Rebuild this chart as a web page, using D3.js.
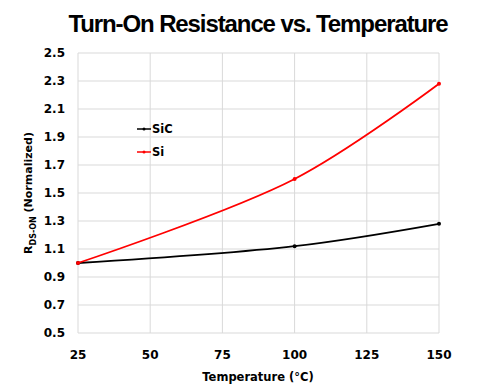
<!DOCTYPE html>
<html>
<head>
<meta charset="utf-8">
<script src="https://cdn.jsdelivr.net/npm/d3@7"></script>
<style>
  body { margin: 0; background: #fff; }
  text { font-family: "DejaVu Sans", Verdana, sans-serif; }
</style>
</head>
<body>
<svg id="chart" width="483" height="385"></svg>
<script>
const temps = [25, 100, 150];
const sicValues = [1.0, 1.12, 1.28];
const siValues = [1.0, 1.6, 2.28];
const xTicks = [25, 50, 75, 100, 125, 150];
const yTicks = [0.5, 0.7, 0.9, 1.1, 1.3, 1.5, 1.7, 1.9, 2.1, 2.3, 2.5];

const series = [
    { name: 'SiC', values: sicValues, color: '#000000' },
    { name: 'Si', values: siValues, color: '#ff0000' }
];

const svg = d3.select("#chart");
const plotLeft = 78, plotRight = 439, plotTop = 53, plotBottom = 333;

const x = d3.scaleLinear().domain([25, 150]).range([plotLeft, plotRight]);
const y = d3.scaleLinear().domain([0.5, 2.5]).range([plotBottom, plotTop]);

// title
svg.append("text")
    .attr("x", 258)
    .attr("y", 32)
    .attr("text-anchor", "middle")
    .style("font-family", "'Liberation Sans', Arial, sans-serif")
    .style("font-size", "24px")
    .style("font-weight", "bold")
    .style("letter-spacing", "-1.1px")
    .text("Turn-On Resistance vs. Temperature");

// grid
svg.append("g")
    .selectAll("line")
    .data(yTicks)
    .enter()
    .append("line")
    .attr("x1", plotLeft)
    .attr("x2", plotRight)
    .attr("y1", d => y(d))
    .attr("y2", d => y(d))
    .style("stroke", "#d9d9d9")
    .style("stroke-width", 1);

svg.append("g")
    .selectAll("line")
    .data(xTicks)
    .enter()
    .append("line")
    .attr("x1", d => x(d))
    .attr("x2", d => x(d))
    .attr("y1", plotTop)
    .attr("y2", plotBottom)
    .style("stroke", "#d9d9d9")
    .style("stroke-width", 1);

// tick labels
svg.append("g")
    .selectAll("text")
    .data(yTicks)
    .enter()
    .append("text")
    .attr("x", 65)
    .attr("y", d => y(d))
    .attr("dy", "0.35em")
    .attr("text-anchor", "end")
    .style("font-size", "12px")
    .style("font-weight", "bold")
    .text(d => d.toFixed(1));

svg.append("g")
    .selectAll("text")
    .data(xTicks)
    .enter()
    .append("text")
    .attr("x", d => x(d))
    .attr("y", 359)
    .attr("text-anchor", "middle")
    .style("font-size", "12px")
    .style("font-weight", "bold")
    .text(d => d);

// axis titles
svg.append("text")
    .attr("x", 258)
    .attr("y", 381)
    .attr("text-anchor", "middle")
    .style("font-size", "11.5px")
    .style("font-weight", "bold")
    .text("Temperature (°C)");

const yTitle = svg.append("text")
    .attr("transform", "translate(32,193) rotate(-90)")
    .attr("text-anchor", "middle")
    .style("font-size", "11px")
    .style("font-weight", "bold");
yTitle.append("tspan").text("R");
yTitle.append("tspan").attr("dy", 4).style("font-size", "8px").text("DS-ON");
yTitle.append("tspan").attr("dy", -4).text(" (Normalized)");

// lines
const line = d3.line()
    .x(d => x(d[0]))
    .y(d => y(d[1]))
    .curve(d3.curveCatmullRom.alpha(0.5));

series.forEach(s => {
    const pts = temps.map((t, i) => [t, s.values[i]]);
    svg.append("path")
        .datum(pts)
        .attr("d", line)
        .style("fill", "none")
        .style("stroke", s.color)
        .style("stroke-width", 1.8);
    svg.append("g")
        .selectAll("circle")
        .data(pts)
        .enter()
        .append("circle")
        .attr("cx", d => x(d[0]))
        .attr("cy", d => y(d[1]))
        .attr("r", 2)
        .style("fill", s.color);
});

// legend
const legend = svg.append("g");
series.forEach((s, i) => {
    const ly = 129 + i * 23;
    legend.append("line")
        .attr("x1", 137).attr("x2", 151)
        .attr("y1", ly).attr("y2", ly)
        .style("stroke", s.color)
        .style("stroke-width", 1.5);
    legend.append("circle")
        .attr("cx", 144).attr("cy", ly).attr("r", 1.5)
        .style("fill", s.color);
    legend.append("text")
        .attr("x", 152)
        .attr("y", ly)
        .attr("dy", "0.35em")
        .style("font-size", "11.5px")
        .style("font-weight", "bold")
        .text(s.name);
});
</script>
</body>
</html>
